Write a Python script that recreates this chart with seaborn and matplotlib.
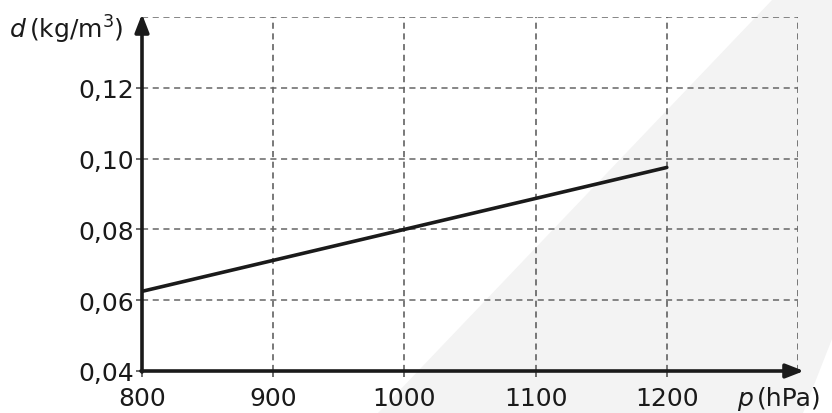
import numpy as np
import pandas as pd
import matplotlib
matplotlib.use("Agg")
import matplotlib.pyplot as plt
import seaborn as sns
from matplotlib.patches import Polygon

# data
pressure = [800, 1000, 1200]
density = [0.0625, 0.08, 0.0975]
x_ticks = [800, 900, 1000, 1100, 1200]
y_ticks = [0.04, 0.06, 0.08, 0.10, 0.12]
y_tick_labels = ["0,04", "0,06", "0,08", "0,10", "0,12"]

sns.set_theme(style="white")
plt.rcParams['font.family'] = ['DejaVu Sans']
plt.rcParams['mathtext.fontset'] = 'dejavusans'

W, H = 832, 414
fig = plt.figure(figsize=(W / 100, H / 100), dpi=100)

# decorative gray background shape (figure pixel coords -> fraction)
poly_px = [(773, 0), (832, 0), (832, 340), (803, 414), (378, 414)]
poly = Polygon([(x / W, 1 - y / H) for x, y in poly_px], closed=True,
               transform=fig.transFigure, facecolor="#f3f3f3", edgecolor="none", zorder=-5)
fig.patches.append(poly)

ax = fig.add_axes([142 / W, 42 / H, 656 / W, 354 / H])
ax.patch.set_alpha(0)

df = pd.DataFrame({"p": pressure, "d": density})
sns.lineplot(data=df, x="p", y="d", ax=ax, color="#1a1a1a", linewidth=2.6, zorder=5)

ax.set_xlim(800, 1300)
ax.set_ylim(0.04, 0.14)

# dashed grid including the outer top and right lines
for xv in x_ticks[1:] + [1300]:
    ax.plot([xv, xv], [0.04, 0.14], ls=(0, (4, 3)), color="#555555", lw=1.1, zorder=1)
for yv in y_ticks[1:] + [0.14]:
    ax.plot([800, 1300], [yv, yv], ls=(0, (4, 3)), color="#666666", lw=1.1, zorder=1)

for s in ax.spines.values():
    s.set_visible(False)

ax.set_xticks(x_ticks)
ax.set_xticklabels([str(v) for v in x_ticks])
ax.set_yticks(y_ticks)
ax.set_yticklabels(y_tick_labels)
ax.tick_params(axis="both", which="both", direction="out", length=4.5, width=1.1,
               color="#444444", labelsize=18, labelcolor="#1a1a1a",
               left=True, bottom=True)
ax.tick_params(axis="x", pad=6)
ax.tick_params(axis="y", pad=1)
ax.set_xlabel("")
ax.set_ylabel("")

# axis arrows
arrow_kw = dict(arrowstyle="-|>,head_length=0.9,head_width=0.35", color="#1a1a1a", lw=2.6,
                shrinkA=0, shrinkB=0)
ax.annotate("", xy=(0, 1.0 + 3 / 354), xytext=(0, -1 / 354), xycoords="axes fraction",
            textcoords="axes fraction", arrowprops=dict(arrow_kw), annotation_clip=False)
ax.annotate("", xy=(1.0 + 6 / 656, 0), xytext=(-1 / 656, 0), xycoords="axes fraction",
            textcoords="axes fraction", arrowprops=dict(arrow_kw), annotation_clip=False)

# axis labels
fig.text(10 / W, 1 - 30 / H, "d", fontsize=18, style="italic", va="center", ha="left", color="#1a1a1a")
fig.text(29 / W, 1 - 30 / H, "(kg/m$^3$)", fontsize=18, va="center", ha="left", color="#1a1a1a")
fig.text(737 / W, 1 - 399 / H, "p", fontsize=18, style="italic", va="center", ha="left", color="#1a1a1a")
fig.text(757 / W, 1 - 399 / H, "(hPa)", fontsize=18, va="center", ha="left", color="#1a1a1a")

fig.savefig("out.png", dpi=100)
